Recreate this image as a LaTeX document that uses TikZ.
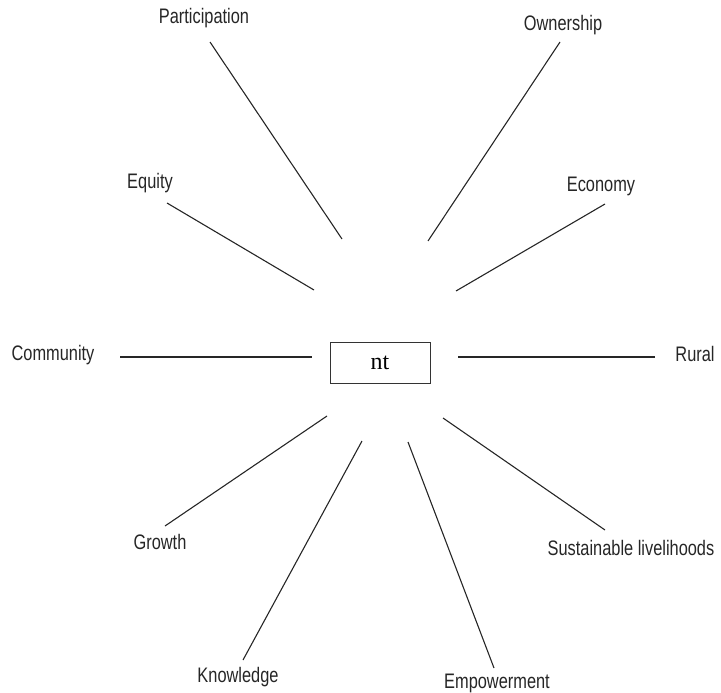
\documentclass[tikz,border=0pt]{standalone}
\usepackage{fontspec}
\setmainfont{Liberation Sans}[FakeStretch=0.78]
\newfontfamily\boxfont{Liberation Serif}
\begin{document}
\begin{tikzpicture}[x=1pt,y=-1pt,
  term/.style={font=\fontsize{21}{24}\selectfont, text=black!85, inner sep=0pt, anchor=center},
  spoke/.style={draw=black!85, line width=1.1pt},
  hub/.style={draw=black!80, line width=1pt, minimum width=100pt, minimum height=41pt,
    inner sep=0pt, font=\boxfont\fontsize{24}{26}\selectfont}]
\useasboundingbox (0,0) rectangle (721,693);

% central box
\node[hub] (hub) at (380,362.5) {nt};

% labels
\node[term] (part) at (204,18) {Participation};
\node[term] (own)  at (563,25) {Ownership};
\node[term] (equ)  at (150,183) {Equity};
\node[term] (eco)  at (601,186) {Economy};
\node[term] (com)  at (53,355) {Community};
\node[term] (rur)  at (695,354) {Rural};
\node[term] (gro)  at (160,542) {Growth};
\node[term] (sus)  at (631,548) {Sustainable livelihoods};
\node[term] (kno)  at (238,677) {Knowledge};
\node[term] (emp)  at (497,683) {Empowerment};

% spoke end points (outer, inner)
\coordinate (partA) at (210,42);  \coordinate (partB) at (342,239);
\coordinate (ownA)  at (560,42);  \coordinate (ownB)  at (428,241);
\coordinate (equA)  at (167,203); \coordinate (equB)  at (314,290);
\coordinate (ecoA)  at (605,204); \coordinate (ecoB)  at (456,291);
\coordinate (comA)  at (120,357); \coordinate (comB)  at (312,357);
\coordinate (rurA)  at (655,357); \coordinate (rurB)  at (458,357);
\coordinate (groA)  at (165,526); \coordinate (groB)  at (327,416);
\coordinate (susA)  at (605,530); \coordinate (susB)  at (443,418);
\coordinate (knoA)  at (243,660); \coordinate (knoB)  at (362,441);
\coordinate (empA)  at (494,668); \coordinate (empB)  at (408,442);

\foreach \s in {part,own,equ,eco,com,rur,gro,sus,kno,emp}
  \draw[spoke] (\s A) -- (\s B);
\end{tikzpicture}
\end{document}
